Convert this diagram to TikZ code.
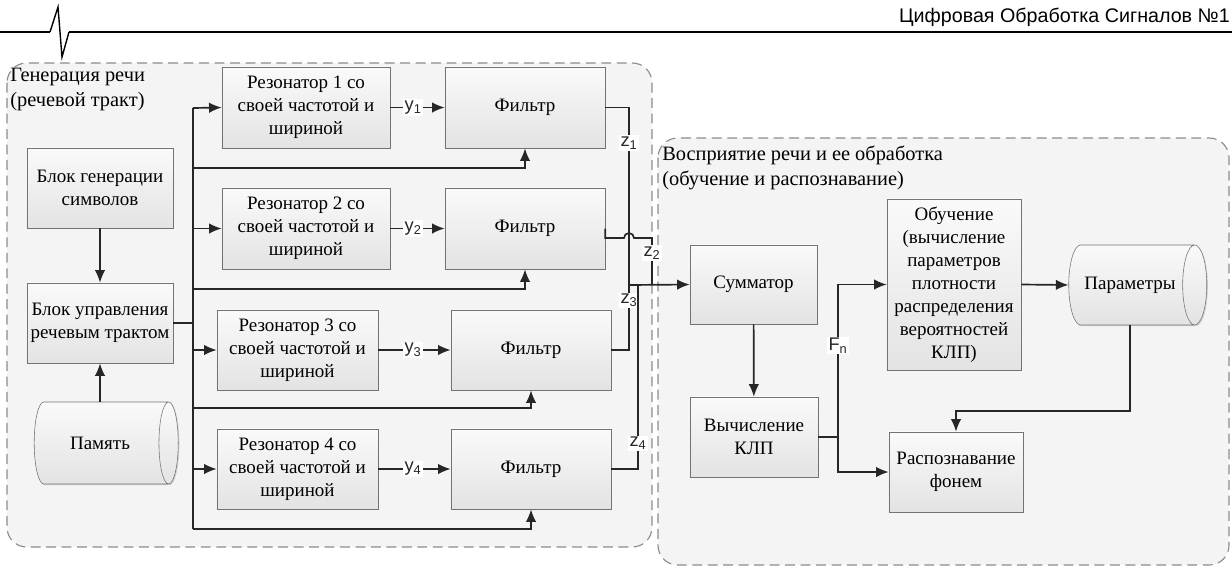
\documentclass[tikz,border=0pt]{standalone}
\usepackage{fontspec}
\setmainfont{Liberation Serif}
\setsansfont{Liberation Sans}
\usepackage{tikz}
\usetikzlibrary{shapes,arrows,arrows.meta,backgrounds,positioning,shadows}
\tikzset{
  blk/.style = {draw=black!55, top color=gray!4, bottom color=gray!22,
    align=center, inner sep=1pt, font=\fontsize{13.5}{16.3}\selectfont,
    drop shadow={shadow xshift=.8pt, shadow yshift=-.8pt, opacity=.3}},% блок схемы
  store/.style = {blk, cylinder, shape aspect=1.25},% накопитель
  grp/.style = {draw=black!45, dash pattern=on 7pt off 4pt, line width=.8pt,
    rounded corners=14pt, fill=gray!9},% пунктирная группа
  grplbl/.style = {align=left, inner sep=0pt, anchor=north west,
    font=\fontsize{14.5}{17.7}\selectfont},% подпись группы
  sig/.style = {fill=white, inner sep=1pt, font=\sffamily\fontsize{13}{13}\selectfont},% метка сигнала
  ln/.style = {line width=1.2pt, black!85},
  arr/.style = {ln, ->}
}
\begin{document}
\begin{tikzpicture}[x=0.025cm, y=-0.025cm, >={Latex[length=9pt,width=7.5pt]}]
\useasboundingbox (0,0) rectangle (1232,567);
% шапка
\draw[line width=1.6pt] (0,32) -- (50,32);
\draw[line width=1pt] (50,32) -- (58,7) -- (62,57) -- (69,32);
\draw[line width=1.6pt] (69,32) -- (1232,32);
\node[anchor=east, inner sep=0pt, font=\sffamily\fontsize{14}{14}\selectfont] (title) at (1230,17) {Цифровая Обработка Сигналов №1};
% группы
\draw[grp] (7,63) rectangle (652,547);
\draw[grp] (658,138) rectangle (1229,565);
\node[grplbl] (glbl) at (10,68) {Генерация речи\\(речевой тракт)};
\node[grplbl] (plbl) at (662,146) {Восприятие речи и ее обработка\\(обучение и распознавание)};
% генерация
\node[blk, minimum width=3.65cm, minimum height=2cm] (gen) at (100,188) {Блок генерации\\символов};
\node[blk, minimum width=3.65cm, minimum height=2cm] (ctrl) at (100,323) {Блок управления\\речевым трактом};
\node[store, minimum height=3.6cm, minimum width=2.05cm] (mem) at (100,443) {Память};
\node[blk, minimum width=4.2cm, minimum height=2.025cm] (r1) at (306,107.5) {Резонатор 1 со\\своей частотой и\\шириной};
\node[blk, minimum width=4.2cm, minimum height=2.025cm] (r2) at (306,228.5) {Резонатор 2 со\\своей частотой и\\шириной};
\node[blk, minimum width=4.025cm, minimum height=2cm] (r3) at (297.5,350) {Резонатор 3 со\\своей частотой и\\шириной};
\node[blk, minimum width=4.025cm, minimum height=2cm] (r4) at (297.5,469) {Резонатор 4 со\\своей частотой и\\шириной};
\node[blk, minimum width=4cm, minimum height=2.025cm] (f1) at (525,107.5) {Фильтр};
\node[blk, minimum width=4cm, minimum height=2.025cm] (f2) at (525,228.5) {Фильтр};
\node[blk, minimum width=4cm, minimum height=2cm] (f3) at (531,350) {Фильтр};
\node[blk, minimum width=4cm, minimum height=2cm] (f4) at (531,469) {Фильтр};
% восприятие
\node[blk, minimum width=3.175cm, minimum height=1.975cm] (sum) at (753.5,284.5) {Сумматор};
\node[blk, minimum width=3.2cm, minimum height=2cm] (klp) at (754,437) {Вычисление\\КЛП};
\node[blk, minimum width=3.35cm, minimum height=4.275cm] (learn) at (954,284.5) {Обучение\\(вычисление\\параметров\\плотности\\распределения\\вероятностей\\КЛП)};
\node[blk, minimum width=3.35cm, minimum height=2cm] (rec) at (956,472) {Распознавание\\фонем};
\node[store, minimum height=3.45cm, minimum width=2cm] (par) at (1130,285) {Параметры};
% шина управления
\coordinate (bt) at (193,108);
\coordinate (bb) at (193,529);
\coordinate (t1) at (193,168);
\coordinate (t2) at (193,289);
\coordinate (t3) at (193,408);
\draw[arr] (gen) -- (ctrl);
\draw[arr] (mem.north -| ctrl) -- (ctrl);
\draw[ln] (ctrl.east) -- (ctrl.east -| bt);
\draw[ln] (bt) -- (bb);
\draw[arr] (bt) -- (r1.west);
\draw[arr] (bt |- r2.west) -- (r2.west);
\draw[arr] (bt |- r3.west) -- (r3.west);
\draw[arr] (bt |- r4.west) -- (r4.west);
\draw[arr] (t1) -| (f1.south);
\draw[arr] (t2) -| (f2.south);
\draw[arr] (t3) -| (f3.south);
\draw[arr] (bb) -| (f4.south);
% резонаторы -> фильтры
\draw[arr] (r1.east) -- node[sig, pos=.42]{y\textsubscript{1}} (f1.west);
\draw[arr] (r2.east) -- node[sig, pos=.42]{y\textsubscript{2}} (f2.west);
\draw[arr] (r3.east) -- node[sig, pos=.48]{y\textsubscript{3}} (f3.west);
\draw[arr] (r4.east) -- node[sig, pos=.48]{y\textsubscript{4}} (f4.west);
% фильтры -> сумматор
\coordinate (zj) at (629,285);
\coordinate (zk) at (638,285);
\coordinate (zm) at (652,285);
\coordinate (hop) at (624,238);
\coordinate (h2) at (652,238);
\draw[ln] (f1.east) -| node[sig, pos=.6]{z\textsubscript{1}} (zj);
\draw[ln] (f2.east) |- (hop) arc[start angle=180, end angle=360, radius=5] -- (h2)
  -- node[sig, pos=.32]{z\textsubscript{2}} (zm);
\draw[ln] (f3.east) -| node[sig, pos=.88]{z\textsubscript{3}} (zj);
\draw[ln] (f4.east) -| node[sig, pos=.57]{z\textsubscript{4}} (zk);
\draw[arr] (zj) -- (sum.west);
% обработка
\coordinate (fn) at (838,437);
\coordinate (pr) at (1000,411);
\draw[arr] (sum) -- (klp);
\draw[ln] (klp.east) -- (fn);
\draw[arr] (fn) |- node[sig, pos=.3]{F\textsubscript{n}} (learn.west);
\draw[arr] (fn) |- (rec.west);
\draw[arr] (learn.east) -- (par.west);
\draw[arr] (par.south) |- (pr) -| (rec.north);
\end{tikzpicture}
\end{document}
